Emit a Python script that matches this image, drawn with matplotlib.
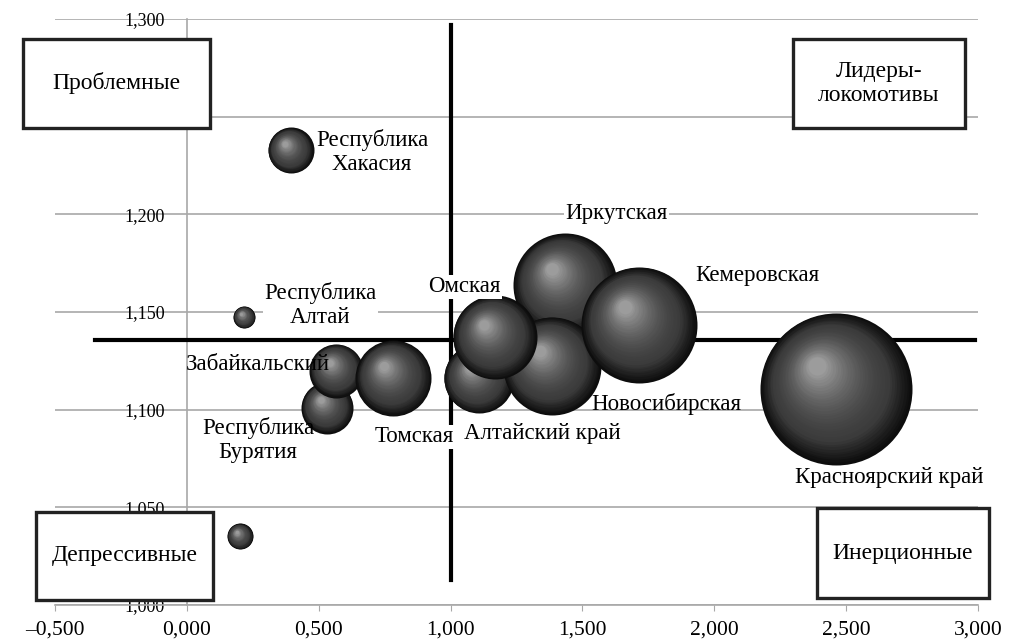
import matplotlib
matplotlib.use("Agg")
import matplotlib.pyplot as plt
from matplotlib.patches import Rectangle
from matplotlib.transforms import ScaledTranslation
from matplotlib.ticker import FuncFormatter, MultipleLocator

plt.rcParams['font.family'] = ['Liberation Serif', 'DejaVu Serif']

# regions: x, y and bubble size (radius in px of the original chart)
regions = ['Республика Хакасия', 'Республика Алтай', 'Забайкальский',
           'Республика Бурятия', 'Томская', 'Омская', 'Алтайский край',
           'Иркутская', 'Новосибирская', 'Кемеровская', 'Красноярский край',
           'Депрессивный регион']
x_vals = [0.394, 0.217, 0.567, 0.532, 0.783, 1.167, 1.106, 1.434, 1.384, 1.715, 2.46, 0.2015]
y_vals = [1.2327, 1.1474, 1.1199, 1.101, 1.1163, 1.137, 1.116, 1.1638, 1.1224, 1.1434, 1.1107, 1.0352]
sizes = [23, 11, 27, 26, 38, 42, 35, 52, 49, 58, 76, 13]

# back to front drawing order
draw_order = [11, 0, 1, 3, 2, 4, 6, 7, 8, 9, 5, 10]

x_split = 1.0
y_split = 1.1357

W, H = 1010, 644
fig = plt.figure(figsize=(W / 100, H / 100), dpi=100)
ax = fig.add_axes([55 / W, (H - 605) / H, (978 - 55) / W, (605 - 19) / H])
ax.set_xlim(-0.5, 3.0)
ax.set_ylim(1.0, 1.3)

def px(x, y):
    return (x / W, 1 - y / H)

fmt = FuncFormatter(lambda v, p: ('%.3f' % v).replace('.', ',').replace('-', '–'))
ax.xaxis.set_major_locator(MultipleLocator(0.5))
ax.yaxis.set_major_locator(MultipleLocator(0.05))
ax.xaxis.set_major_formatter(fmt)
ax.yaxis.set_major_formatter(fmt)

grey = '#a8a8a8'
for s in ['top', 'right']:
    ax.spines[s].set_visible(False)
ax.spines['left'].set_position(('data', 0))
ax.spines['left'].set_color(grey)
ax.spines['bottom'].set_color(grey)
ax.spines['left'].set_linewidth(1.2)
ax.spines['bottom'].set_linewidth(1.2)
ax.yaxis.grid(True, color=grey, lw=1.2)
ax.set_axisbelow(True)
ax.tick_params(axis='x', length=4, color=grey, labelsize=15.5, pad=7)
ax.tick_params(axis='y', length=0, labelsize=13, pad=16)

# quadrant lines
ax.plot([x_split, x_split], [1.0128, 1.297], color='black', lw=3, zorder=3)
ax.plot([-0.35, 2.99], [y_split, y_split], color='black', lw=3, zorder=3)

def sphere(x, y, r, z):
    n = 36
    for k in range(n):
        t = k / (n - 1)
        rr = r * (1 - 0.88 * t)
        dx = -0.25 * r * t
        dy = 0.30 * r * t
        g = 0.05 + 0.16 * min(t * 4, 1) + 0.40 * t ** 2.2
        tr = ax.transData + ScaledTranslation(dx / 100, dy / 100, fig.dpi_scale_trans)
        ax.scatter([x], [y], s=(2 * rr * 0.72) ** 2, color=(g, g, g),
                   linewidths=0, transform=tr, zorder=z)

for i, idx in enumerate(draw_order):
    sphere(x_vals[idx], y_vals[idx], sizes[idx], 4 + i)

# labels (pixel positions from the original picture)
fs = 16.5
wb = dict(facecolor='white', edgecolor='none', pad=1)
labels = [
    ('Республика\nХакасия', 372, 152, 'center', None),
    ('Республика\nАлтай', 320, 305, 'center', wb),
    ('Забайкальский', 186, 365, 'left', None),
    ('Республика\nБурятия', 258, 440, 'center', None),
    ('Томская', 414, 437, 'center', wb),
    ('Омская', 464, 287, 'center', wb),
    ('Алтайский край', 542, 433, 'center', None),
    ('Иркутская', 616, 214, 'center', wb),
    ('Новосибирская', 666, 404, 'center', None),
    ('Кемеровская', 757, 276, 'center', None),
    ('Красноярский край', 889, 477, 'center', None),
]
for txt, lx, ly, ha, bb in labels:
    fig.text(*px(lx, ly), txt, ha=ha, va='center', fontsize=fs,
             linespacing=1.15, bbox=bb, zorder=60)

# quadrant boxes
boxes = [
    ('Проблемные', 23, 39, 210, 128),
    ('Лидеры-\nлокомотивы', 793, 39, 965, 128),
    ('Депрессивные', 36, 512, 213, 600),
    ('Инерционные', 817, 508, 989, 598),
]
for txt, x0, y0, x1, y1 in boxes:
    fig.add_artist(Rectangle(px(x0, y1), (x1 - x0) / W, (y1 - y0) / H,
                             transform=fig.transFigure, facecolor='white',
                             edgecolor='#222222', lw=2.4, zorder=70))
    fig.text(*px((x0 + x1) / 2, (y0 + y1) / 2), txt, ha='center', va='center',
             fontsize=17, linespacing=1.2, zorder=71)

fig.savefig('out.png', dpi=100)
